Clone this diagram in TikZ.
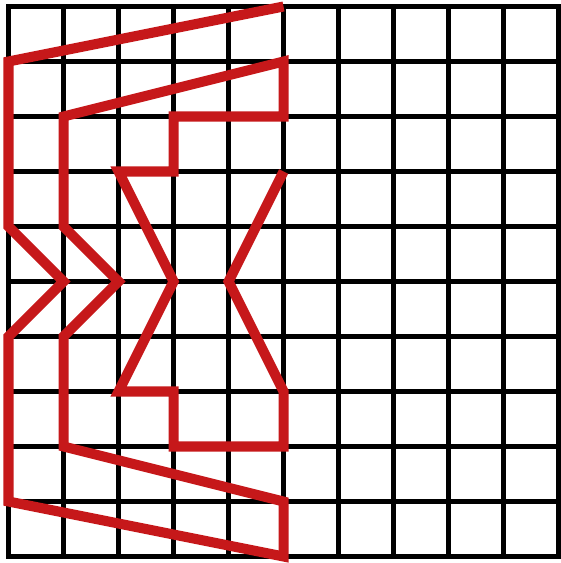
\documentclass[tikz,border=0pt]{standalone}
\definecolor{pathred}{RGB}{198,24,26}

\begin{document}
\begin{tikzpicture}[x=1cm,y=-1cm,line join=miter]
    \useasboundingbox (-0.155,-0.118) rectangle (10.027,10.118);
    % Gitter
    \foreach \k in {0,...,10} {
      \draw[line width=2.5pt,line cap=rect] (\k,0)--(\k,10);
      \draw[line width=2.5pt,line cap=rect] (0,\k)--(10,\k);
    }
    % Streckenzug
    \draw[pathred,line width=5.2pt]
      (5,0)--(0,1)--(0,4)--(1,5)--(0,6)--(0,9)--(5,10)--(5,9)--(1,8)
      --(1,6)--(2,5)--(1,4)--(1,2)--(5,1)--(5,2)--(3,2)--(3,3)--(2,3)
      --(3,5)--(2,7)--(3,7)--(3,8)--(5,8)--(5,7)--(4,5)--(5,3);
  \end{tikzpicture}
\end{document}
